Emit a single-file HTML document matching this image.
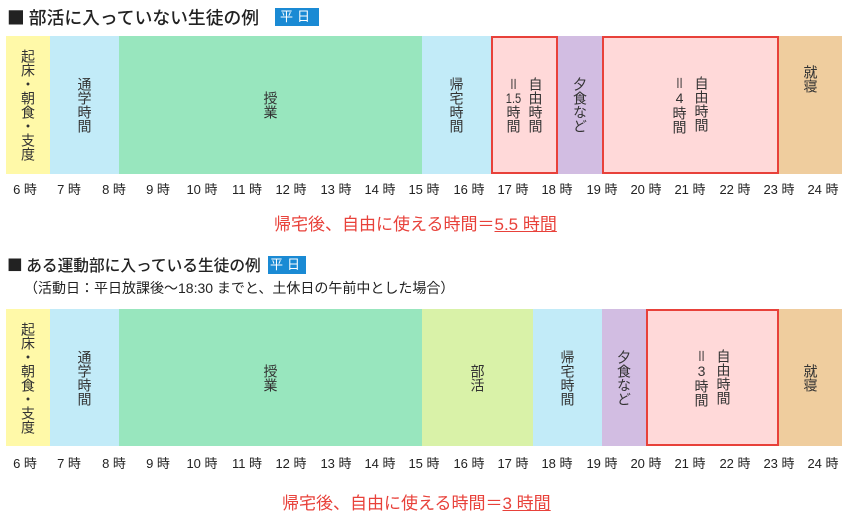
<!DOCTYPE html>
<html><head><meta charset="utf-8"><style>
body{margin:0;width:848px;height:519px;background:#fff;position:relative;overflow:hidden;font-family:"Liberation Sans","Noto Sans CJK JP",sans-serif;color:#222}
.a{position:absolute}
.t{font-weight:500;white-space:nowrap;font-family:"Noto Sans CJK JP",sans-serif}
.badge{background:#1a8ad4;color:#fff;font-size:13px;text-align:center;line-height:17px;letter-spacing:4px}
.b{position:absolute;display:flex;align-items:center;justify-content:center;box-sizing:border-box}
.v{writing-mode:vertical-rl;text-orientation:upright;font-size:14px;line-height:22px;color:#333;letter-spacing:0}
.h{position:absolute;font-size:13px;width:40px;margin-left:-20px;text-align:center;color:#222}
.r{border:2px solid #e8413a;background:#ffd9d9}
.red{color:#e8413a;font-size:17px;white-space:nowrap}
.tcu{text-combine-upright:all}
</style></head><body>
<div class="a t" style="left:7px;top:4px;font-size:17.8px">■ 部活に入っていない生徒の例</div>
<div class="a badge" style="left:275px;top:8px;width:44px;height:18px">平日</div>

<div class="b" style="left:6px;top:36px;width:44px;height:138px;background:#fff9a8"><div class="v">起床・朝食・支度</div></div>
<div class="b" style="left:50px;top:36px;width:69px;height:138px;background:#c2ebf8"><div class="v">通学時間</div></div>
<div class="b" style="left:119px;top:36px;width:303px;height:138px;background:#98e6be"><div class="v">授業</div></div>
<div class="b" style="left:422px;top:36px;width:69px;height:138px;background:#c2ebf8"><div class="v">帰宅時間</div></div>
<div class="b r" style="left:491px;top:36px;width:67px;height:138px"><div class="v">自由時間<br>＝<span class="tcu">1.5</span>時間</div></div>
<div class="b" style="left:558px;top:36px;width:44px;height:138px;background:#d2bde2"><div class="v">夕食など</div></div>
<div class="b r" style="left:602px;top:36px;width:177px;height:138px"><div class="v">自由時間<br>＝4時間</div></div>
<div class="b" style="left:779px;top:36px;width:63px;height:138px;background:#efcd9e"><div class="v" style="margin-top:-52px">就寝</div></div>

<div class="a red" style="left:274px;top:210px">帰宅後、自由に使える時間＝<u>5.5 時間</u></div>

<div class="a t" style="left:7px;top:253px;font-size:15.7px">■ ある運動部に入っている生徒の例</div>
<div class="a badge" style="left:268px;top:256px;width:38px;height:18px">平日</div>
<div class="a" style="left:24px;top:278px;font-size:14px;white-space:nowrap">（活動日：平日放課後～18:30 までと、土休日の午前中とした場合）</div>

<div class="b" style="left:6px;top:309px;width:44px;height:137px;background:#fff9a8"><div class="v">起床・朝食・支度</div></div>
<div class="b" style="left:50px;top:309px;width:69px;height:137px;background:#c2ebf8"><div class="v">通学時間</div></div>
<div class="b" style="left:119px;top:309px;width:303px;height:137px;background:#98e6be"><div class="v">授業</div></div>
<div class="b" style="left:422px;top:309px;width:111px;height:137px;background:#d9f2a8"><div class="v">部活</div></div>
<div class="b" style="left:533px;top:309px;width:69px;height:137px;background:#c2ebf8"><div class="v">帰宅時間</div></div>
<div class="b" style="left:602px;top:309px;width:44px;height:137px;background:#d2bde2"><div class="v">夕食など</div></div>
<div class="b r" style="left:646px;top:309px;width:133px;height:137px"><div class="v">自由時間<br>＝3時間</div></div>
<div class="b" style="left:779px;top:309px;width:63px;height:137px;background:#efcd9e"><div class="v">就寝</div></div>

<div class="a red" style="left:282px;top:489px">帰宅後、自由に使える時間＝<u>3 時間</u></div>

<div class="h" style="left:25px;top:179px">6 時</div><div class="h" style="left:69px;top:179px">7 時</div><div class="h" style="left:114px;top:179px">8 時</div><div class="h" style="left:158px;top:179px">9 時</div><div class="h" style="left:202px;top:179px">10 時</div><div class="h" style="left:247px;top:179px">11 時</div><div class="h" style="left:291px;top:179px">12 時</div><div class="h" style="left:336px;top:179px">13 時</div><div class="h" style="left:380px;top:179px">14 時</div><div class="h" style="left:424px;top:179px">15 時</div><div class="h" style="left:469px;top:179px">16 時</div><div class="h" style="left:513px;top:179px">17 時</div><div class="h" style="left:557px;top:179px">18 時</div><div class="h" style="left:602px;top:179px">19 時</div><div class="h" style="left:646px;top:179px">20 時</div><div class="h" style="left:690px;top:179px">21 時</div><div class="h" style="left:735px;top:179px">22 時</div><div class="h" style="left:779px;top:179px">23 時</div><div class="h" style="left:823px;top:179px">24 時</div>

<div class="h" style="left:25px;top:453px">6 時</div><div class="h" style="left:69px;top:453px">7 時</div><div class="h" style="left:114px;top:453px">8 時</div><div class="h" style="left:158px;top:453px">9 時</div><div class="h" style="left:202px;top:453px">10 時</div><div class="h" style="left:247px;top:453px">11 時</div><div class="h" style="left:291px;top:453px">12 時</div><div class="h" style="left:336px;top:453px">13 時</div><div class="h" style="left:380px;top:453px">14 時</div><div class="h" style="left:424px;top:453px">15 時</div><div class="h" style="left:469px;top:453px">16 時</div><div class="h" style="left:513px;top:453px">17 時</div><div class="h" style="left:557px;top:453px">18 時</div><div class="h" style="left:602px;top:453px">19 時</div><div class="h" style="left:646px;top:453px">20 時</div><div class="h" style="left:690px;top:453px">21 時</div><div class="h" style="left:735px;top:453px">22 時</div><div class="h" style="left:779px;top:453px">23 時</div><div class="h" style="left:823px;top:453px">24 時</div>
</body></html>
